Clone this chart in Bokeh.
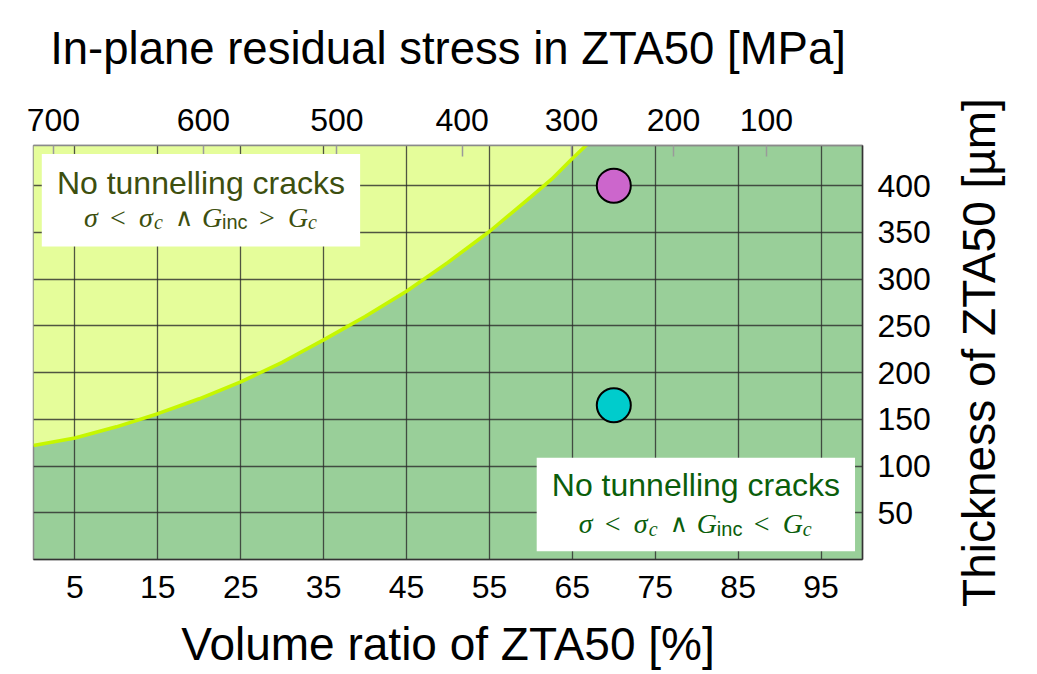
import math
from bokeh.plotting import figure
from bokeh.models import Range1d, LinearAxis, FixedTicker, BoxAnnotation, Label
from bokeh.layouts import row
from bokeh.core.properties import value
from bokeh.embed import file_html
from bokeh.resources import INLINE

# ---------------- data ----------------
vol_ticks = [5, 15, 25, 35, 45, 55, 65, 75, 85, 95]
thick_ticks = [50, 100, 150, 200, 250, 300, 350, 400]
stress_labels = [700, 600, 500, 400, 300, 200, 100]
stress_tick_pos = [2.4, 20.5, 36.6, 51.7, 64.9, 77.2, 88.4]   # volume ratio [%] where each stress value falls

boundary_ratio = [0, 5, 10, 15, 20, 25, 30, 35, 40, 45, 50, 55, 60, 62.5, 65, 67]
boundary_thick = [122, 130, 142, 156, 172, 190, 211, 235, 260, 287, 318, 351, 388, 407, 429, 446]

pt_ratio = [70, 70]
pt_thick = [400, 165]
pt_colors = ["#cc66cc", "#00cccc"]

title_top = "In-plane residual stress in ZTA50 [MPa]"
title_bottom = "Volume ratio of ZTA50 [%]"
title_right = "Thickness of ZTA50 [µm]"

# ---------------- style ----------------
YELLOW = "#e5fd9a"
GREEN = "#99cf99"
CURVE = "#c6f700"
GRID = "#2a2a2a"
FONT = "Liberation Sans"
X_MAX = 100
Y_MAX = 443

B_LEFT, B_TOP, FRAME_W, FRAME_H, B_RIGHT, B_BOTTOM = 33, 145, 829, 414, 80, 60
MAIN_W = B_LEFT + FRAME_W + B_RIGHT
SIDE_W = 90
SIDE_H = 670

p = figure(frame_width=FRAME_W, frame_height=FRAME_H,
           x_range=Range1d(0, X_MAX), y_range=Range1d(0, Y_MAX),
           output_backend="svg", toolbar_location=None,
           y_axis_location="right",
           min_border_left=B_LEFT, min_border_right=B_RIGHT,
           min_border_top=B_TOP, min_border_bottom=B_BOTTOM,
           background_fill_color=GREEN, border_fill_color="white",
           outline_line_color="#8a8a8a", outline_line_width=1.5)
p.frame_align = False

# bottom axis
xa = p.xaxis[0]
xa.ticker = FixedTicker(ticks=vol_ticks)
xa.axis_label = title_bottom
xa.axis_label_text_font = FONT
xa.axis_label_text_font_style = "normal"
xa.axis_label_text_font_size = "46px"
xa.axis_label_text_color = "black"
xa.axis_label_standoff = 17
xa.major_label_text_font = FONT
xa.major_label_text_font_size = "32px"
xa.major_label_text_color = "black"
xa.major_label_standoff = 16
xa.major_tick_out = 0
xa.major_tick_in = 0
xa.minor_tick_line_color = None
xa.axis_line_color = "#333333"
xa.axis_line_width = 1.5

# right axis
ya = p.yaxis[0]
ya.ticker = FixedTicker(ticks=thick_ticks)
ya.major_label_text_font = FONT
ya.major_label_text_font_size = "32px"
ya.major_label_text_color = "black"
ya.major_label_standoff = 15
ya.major_tick_out = 0
ya.major_tick_in = 0
ya.minor_tick_line_color = None
ya.axis_line_color = "#333333"
ya.axis_line_width = 1.5

# top axis (stress)
top = LinearAxis(ticker=FixedTicker(ticks=stress_tick_pos),
                 major_label_overrides={pos: str(lab) for pos, lab in zip(stress_tick_pos, stress_labels)},
                 axis_label=title_top,
                 axis_label_text_font=FONT, axis_label_text_font_style="normal",
                 axis_label_text_font_size="45.5px", axis_label_text_color="black",
                 axis_label_standoff=32,
                 major_label_text_font=FONT, major_label_text_font_size="32px",
                 major_label_text_color="black", major_label_standoff=15,
                 major_tick_in=11, major_tick_out=0,
                 major_tick_line_color="#9a9a9a", major_tick_line_width=1.5,
                 minor_tick_line_color=None, axis_line_color="#8a8a8a", axis_line_width=1.5)
p.add_layout(top, "above")

# grids
p.xgrid.ticker = FixedTicker(ticks=vol_ticks)
p.ygrid.ticker = FixedTicker(ticks=thick_ticks)
for g in (p.xgrid, p.ygrid):
    g.grid_line_color = GRID
    g.grid_line_alpha = 0.8
    g.grid_line_width = 1.3

# region above the boundary (no cracks, G_inc > G_c)
p.varea(x=boundary_ratio, y1=boundary_thick, y2=Y_MAX + 10, fill_color=YELLOW, level="image")
p.line(boundary_ratio, boundary_thick, line_color=CURVE, line_width=3.5)

p.scatter(pt_ratio, pt_thick, size=34, fill_color=pt_colors, line_color="black", line_width=2)

# text boxes
def text_box(left, right, topv, bottom, color, rel, head_drop, form_drop):
    p.add_layout(BoxAnnotation(left=left, right=right, top=topv, bottom=bottom,
                               fill_color="white", fill_alpha=1.0, line_color=None))
    cx = (left + right) / 2
    p.add_layout(Label(x=cx, y=topv, y_offset=-head_drop, text="No tunnelling cracks",
                       text_font=FONT, text_font_size="32px", text_color=color,
                       text_align="center", text_baseline="alphabetic"))
    start = -117
    pieces = [
        (0, "σ", "Liberation Serif", "italic", "28px", 0),
        (26, "<", "Liberation Serif", "normal", "28px", 0),
        (55, "σ", "Liberation Serif", "italic", "28px", 0),
        (70, "c", "Liberation Serif", "italic", "20px", 5),
        (91, "∧", "DejaVu Serif", "normal", "25px", 0),
        (118, "G", "Liberation Serif", "italic", "28px", 0),
        (138, "inc", FONT, "normal", "20px", 5),
        (175, rel, "Liberation Serif", "normal", "28px", 0),
        (204, "G", "Liberation Serif", "italic", "28px", 0),
        (224, "c", "Liberation Serif", "italic", "20px", 5),
    ]
    for dx, t, f, st, sz, dy in pieces:
        p.add_layout(Label(x=cx, y=topv, x_offset=start + dx, y_offset=-(form_drop + dy), text=t,
                           text_font=f, text_font_style=st, text_font_size=sz, text_color=color,
                           text_align="left", text_baseline="alphabetic"))

text_box(1.0, 39.4, 433.9, 334.8, "#3d4f0f", ">", 29, 63)
text_box(60.7, 99.1, 109.0, 8.9, "#0b5e0b", "<", 27, 66)

# strip at right: y-axis title (reads bottom to top)
ps = figure(width=SIDE_W, height=SIDE_H, x_range=Range1d(0, SIDE_W), y_range=Range1d(0, SIDE_H),
            output_backend="svg", toolbar_location=None, x_axis_location=None, y_axis_location=None,
            min_border=0, min_border_left=0, min_border_right=0, min_border_top=0, min_border_bottom=0,
            outline_line_color=None, background_fill_color="white", border_fill_color="white")
ps.frame_align = False
ps.grid.visible = False
ps.text(x=[978 - MAIN_W], y=[SIDE_H - (B_TOP + FRAME_H / 2)], text=[title_right], angle=math.pi / 2,
        text_font=value(FONT), text_font_size="46px", text_color="black",
        text_align="center", text_baseline="alphabetic")

layout = row(p, ps, spacing=0)
open("out.html", "w").write(file_html(layout, INLINE))
